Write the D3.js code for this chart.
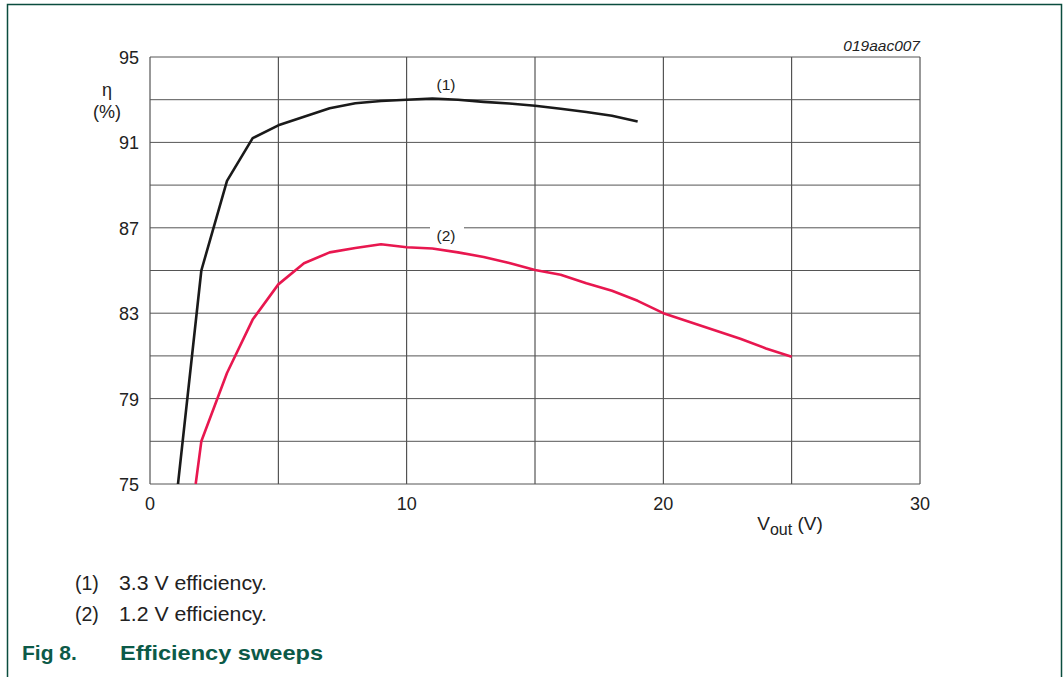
<!DOCTYPE html>
<html>
<head>
<meta charset="utf-8">
<script src="https://cdn.jsdelivr.net/npm/d3@7"></script>
<style>
body { margin: 0; background: #fff; }
svg { display: block; font-family: Arial, "Liberation Sans", sans-serif; }
</style>
</head>
<body>
<svg id="chart" width="1063" height="677"></svg>
<script>
// 3.3 V curve (1)
var vout1 = [1, 2, 3, 4, 5, 6, 7, 8, 9, 10, 11, 12, 13, 14, 15, 16, 17, 18, 19];
var eff1 = [74.0, 85.0, 89.2, 91.2, 91.8, 92.2, 92.6, 92.83, 92.94, 93.0, 93.05, 93.0, 92.9, 92.82, 92.72, 92.58, 92.42, 92.25, 91.98];
// 1.2 V curve (2)
var vout2 = [1.78, 2, 3, 4, 5, 6, 7, 8, 9, 10, 11, 12, 13, 14, 15, 16, 17, 18, 19, 20, 21, 22, 23, 24, 25];
var eff2 = [75.0, 77.0, 80.2, 82.7, 84.35, 85.34, 85.85, 86.05, 86.23, 86.09, 86.03, 85.85, 85.63, 85.35, 85.02, 84.8, 84.4, 84.05, 83.58, 83.0, 82.6, 82.2, 81.8, 81.35, 80.96];

var xTicks = [0, 10, 20, 30];
var yTicks = [95, 91, 87, 83, 79, 75];
var xGrid = [0, 5, 10, 15, 20, 25, 30];
var yGrid = [75, 77, 79, 81, 83, 85, 87, 89, 91, 93, 95];

var svg = d3.select("#chart");
var green = "#0c5a48";
var ink = "#222";

// frame round the figure
svg.append("path")
	.attr("d", "M7.5,677 V4.5 H1061.5 V677")
	.style("fill", "none")
	.style("stroke", "#0b4d3e")
	.style("stroke-width", 1.5);

var x = d3.scaleLinear().domain([0, 30]).range([150, 920]);
var y = d3.scaleLinear().domain([75, 95]).range([484, 57]);

var g = svg.append("g");

/* grid */
g.selectAll("line.vg").data(xGrid).enter().append("line")
	.attr("class", "vg")
	.attr("x1", function(d){ return x(d); })
	.attr("x2", function(d){ return x(d); })
	.attr("y1", y(75)).attr("y2", y(95))
	.style("stroke", "#333")
	.style("stroke-width", 1);

g.selectAll("line.hg").data(yGrid).enter().append("line")
	.attr("class", "hg")
	.attr("x1", x(0)).attr("x2", x(30))
	.attr("y1", function(d){ return y(d); })
	.attr("y2", function(d){ return y(d); })
	.style("stroke", "#555")
	.style("stroke-width", 1);

/* tick labels */
g.selectAll("text.yt").data(yTicks).enter().append("text")
	.attr("class", "yt")
	.attr("x", 139)
	.attr("y", function(d){ return y(d) + 7; })
	.attr("text-anchor", "end")
	.style("font-size", "18px")
	.style("fill", ink)
	.text(function(d){ return d; });

g.selectAll("text.xt").data(xTicks).enter().append("text")
	.attr("class", "xt")
	.attr("x", function(d){ return x(d); })
	.attr("y", 510)
	.attr("text-anchor", "middle")
	.style("font-size", "18px")
	.style("fill", ink)
	.text(function(d){ return d; });

/* axis titles */
g.append("text").attr("x", 107).attr("y", 96).attr("text-anchor", "middle")
	.style("font-size", "18px").style("fill", ink).text("η");
g.append("text").attr("x", 107).attr("y", 118).attr("text-anchor", "middle")
	.style("font-size", "18px").style("fill", ink).text("(%)");

var xt = g.append("text").attr("x", 790).attr("y", 530).attr("text-anchor", "middle")
	.style("font-size", "19px").style("fill", ink);
xt.append("tspan").text("V");
xt.append("tspan").attr("dy", 5).style("font-size", "16px").text("out");
xt.append("tspan").attr("dy", -5).text(" (V)");

g.append("text").attr("x", 920).attr("y", 51).attr("text-anchor", "end")
	.style("font-size", "15.5px").style("font-style", "italic").style("fill", ink)
	.text("019aac007");

/* curves, clipped to the plot */
svg.append("clipPath").attr("id", "plotclip")
	.append("rect").attr("x", x(0)).attr("y", y(95))
	.attr("width", x(30) - x(0)).attr("height", y(75) - y(95));

var line = d3.line()
	.x(function(d){ return x(d[0]); })
	.y(function(d){ return y(d[1]); });

var curves = g.append("g").attr("clip-path", "url(#plotclip)");

curves.append("path")
	.datum(d3.zip(vout1, eff1))
	.attr("d", line)
	.style("fill", "none")
	.style("stroke", "#1a1a1a")
	.style("stroke-width", 2.6)
	.style("stroke-linejoin", "round");

curves.append("path")
	.datum(d3.zip(vout2, eff2))
	.attr("d", line)
	.style("fill", "none")
	.style("stroke", "#e8174f")
	.style("stroke-width", 2.6)
	.style("stroke-linejoin", "round");

/* curve labels */
g.append("text").attr("x", 446).attr("y", 90).attr("text-anchor", "middle")
	.style("font-size", "15.5px").style("fill", ink).text("(1)");

g.append("rect").attr("x", 430).attr("y", y(87) - 2).attr("width", 34).attr("height", 4)
	.style("fill", "#fff");
g.append("text").attr("x", 446).attr("y", 241).attr("text-anchor", "middle")
	.style("font-size", "15.5px").style("fill", ink).text("(2)");

/* notes */
var notes = [["(1)", "3.3 V efficiency."], ["(2)", "1.2 V efficiency."]];
notes.forEach(function(n, i){
	svg.append("text").attr("x", 75).attr("y", 590 + i * 31)
		.style("font-size", "19.5px").style("fill", ink).text(n[0]);
	svg.append("text").attr("x", 119).attr("y", 590 + i * 31)
		.attr("textLength", 148).attr("lengthAdjust", "spacingAndGlyphs")
		.style("font-size", "20px").style("fill", ink).text(n[1]);
});

svg.append("text").attr("x", 22).attr("y", 660)
	.style("font-size", "21px").style("font-weight", "bold").style("fill", green)
	.text("Fig 8.");
svg.append("text").attr("x", 120).attr("y", 660)
	.attr("textLength", 203).attr("lengthAdjust", "spacingAndGlyphs")
	.style("font-size", "21px").style("font-weight", "bold").style("fill", green)
	.text("Efficiency sweeps");
</script>
</body>
</html>
